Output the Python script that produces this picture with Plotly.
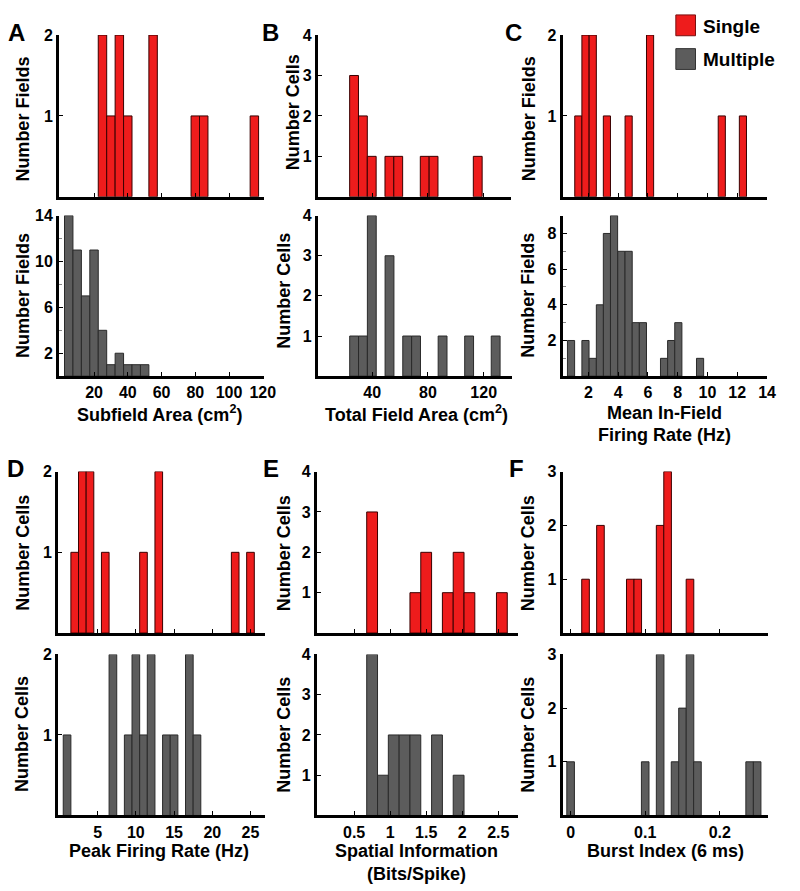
import plotly.graph_objects as go

W, H = 800, 891
RED = "#EE1C1C"
GREY = "#5C5C5C"
FONT = "Arial, Liberation Sans, sans-serif"

# ---------------- data ----------------
# A: Subfield area (cm2)
a_single_x = [25, 30, 35, 40, 55, 80, 85, 115]
a_single_n = [2, 1, 2, 1, 2, 1, 1, 1]
a_multi_x = [5, 10, 15, 20, 25, 30, 35, 40, 45, 50]
a_multi_n = [14, 11, 7, 11, 4, 1, 2, 1, 1, 1]
a_bin = 5
a_xticks = [20, 40, 60, 80, 100, 120]

# B: Total field area (cm2)
b_single_x = [27, 33.35, 39.7, 52.4, 58.75, 77.8, 84.15, 115.9]
b_single_n = [3, 2, 1, 1, 1, 1, 1, 1]
b_multi_x = [27, 33.35, 39.7, 52.4, 65.1, 71.45, 90.5, 109.55, 128.6]
b_multi_n = [1, 1, 4, 3, 1, 1, 1, 1, 1]
b_bin = 6.35
b_xticks = [40, 80, 120]

# C: Mean in-field firing rate (Hz)
c_single_x = [1.32, 1.8, 2.29, 3.24, 4.7, 6.14, 10.96, 12.38]
c_single_n = [1, 2, 2, 1, 1, 2, 1, 1]
c_multi_x = [0.83, 1.8, 2.29, 2.77, 3.24, 3.72, 4.21, 4.7, 5.18, 5.66, 7.08, 7.56, 8.04, 9.5]
c_multi_n = [2, 2, 1, 4, 8, 9, 7, 7, 3, 3, 1, 2, 3, 1]
c_bin = 0.48
c_xticks = [2, 4, 6, 8, 10, 12, 14]

# D: Peak firing rate (Hz)
d_single_x = [2, 3, 4, 6, 11, 13, 23, 25]
d_single_n = [1, 2, 2, 1, 1, 2, 1, 1]
d_multi_x = [1, 7, 9, 10, 11, 12, 14, 15, 17, 18]
d_multi_n = [1, 2, 1, 2, 1, 2, 1, 1, 2, 1]
d_bin = 1
d_xticks = [5, 10, 15, 20, 25]

# E: Spatial information (bits/spike)
e_single_x = [0.75, 1.35, 1.5, 1.8, 1.95, 2.1, 2.55]
e_single_n = [3, 1, 2, 1, 2, 1, 1]
e_multi_x = [0.75, 0.9, 1.05, 1.2, 1.35, 1.65, 1.95]
e_multi_n = [4, 1, 2, 2, 2, 2, 1]
e_bin = 0.15
e_xticks = [0.5, 1, 1.5, 2, 2.5]
e_xticktext = ["0.5", "1", "1.5", "2", "2.5"]

# F: Burst index (6 ms)
f_single_x = [0.02, 0.04, 0.08, 0.09, 0.12, 0.13, 0.16]
f_single_n = [1, 2, 1, 1, 2, 3, 1]
f_multi_x = [0.0, 0.10, 0.12, 0.14, 0.15, 0.16, 0.17, 0.24, 0.25]
f_multi_n = [1, 1, 3, 1, 2, 3, 1, 1, 1]
f_bin = 0.0102
f_xticks = [0, 0.1, 0.2]
f_xticktext = ["0", "0.1", "0.2"]

# ---------------- layout helpers ----------------
def fx(p):
    return p / W

def fy(p):
    return 1 - p / H

R1T = (27.3, 190.5)
R1B = (209.5, 371.5)
R2T = (467.8, 630.7)
R2B = (652.3, 814.8)

panels = [
    # A
    dict(x=a_single_x, n=a_single_n, w=a_bin, c=RED, xd=(60, 268), yd=R1T, xr=[-0.75, 120.5],
         yr=[0, 2], xt=a_xticks, xtt=None, yt=[1, 2], ym=None, lab=False),
    dict(x=a_multi_x, n=a_multi_n, w=a_bin, c=GREY, xd=(60, 268), yd=R1B, xr=[-0.75, 120.5],
         yr=[0, 14], xt=a_xticks, xtt=None, yt=[2, 6, 10, 14], ym=[4, 8, 12], lab=True),
    # B
    dict(x=b_single_x, n=b_single_n, w=b_bin, c=RED, xd=(323, 519), yd=R1T, xr=[0.9, 139.5],
         yr=[0, 4], xt=b_xticks, xtt=None, yt=[1, 2, 3, 4], ym=None, lab=False),
    dict(x=b_multi_x, n=b_multi_n, w=b_bin, c=GREY, xd=(323, 520), yd=R1B, xr=[0.9, 140],
         yr=[0, 4], xt=b_xticks, xtt=None, yt=[1, 2, 3, 4], ym=None, lab=True),
    # C
    dict(x=c_single_x, n=c_single_n, w=c_bin, c=RED, xd=(572, 780), yd=R1T, xr=[0.27, 14.02],
         yr=[0, 2], xt=c_xticks, xtt=None, yt=[1, 2], ym=None, lab=False),
    dict(x=c_multi_x, n=c_multi_n, w=c_bin, c=GREY, xd=(572, 780), yd=R1B, xr=[0.27, 14.02],
         yr=[0, 9], xt=c_xticks, xtt=None, yt=[2, 4, 6, 8], ym=[1, 3, 5, 7, 9], lab=True),
    # D
    dict(x=d_single_x, n=d_single_n, w=d_bin, c=RED, xd=(59, 269), yd=R2T, xr=[-0.18, 26.85],
         yr=[0, 2], xt=d_xticks, xtt=None, yt=[1, 2], ym=None, lab=False),
    dict(x=d_multi_x, n=d_multi_n, w=d_bin, c=GREY, xd=(59, 269), yd=R2B, xr=[-0.18, 26.85],
         yr=[0, 2], xt=d_xticks, xtt=None, yt=[1, 2], ym=None, lab=True),
    # E
    dict(x=e_single_x, n=e_single_n, w=e_bin, c=RED, xd=(322, 527), yd=R2T, xr=[-0.018, 2.78],
         yr=[0, 4], xt=e_xticks, xtt=e_xticktext, yt=[1, 2, 3, 4], ym=None, lab=False),
    dict(x=e_multi_x, n=e_multi_n, w=e_bin, c=GREY, xd=(322, 527), yd=R2B, xr=[-0.018, 2.78],
         yr=[0, 4], xt=e_xticks, xtt=e_xticktext, yt=[1, 2, 3, 4], ym=None, lab=True),
    # F
    dict(x=f_single_x, n=f_single_n, w=f_bin, c=RED, xd=(572, 781), yd=R2T, xr=[-0.0106, 0.265],
         yr=[0, 3], xt=f_xticks, xtt=f_xticktext, yt=[1, 2, 3], ym=None, lab=False),
    dict(x=f_multi_x, n=f_multi_n, w=f_bin, c=GREY, xd=(572, 781), yd=R2B, xr=[-0.0106, 0.265],
         yr=[0, 3], xt=f_xticks, xtt=f_xticktext, yt=[1, 2, 3], ym=None, lab=True),
]

TICKFONT = dict(family=FONT, size=16, color="black", weight="bold")

fig = go.Figure()
layout = {}
for i, p in enumerate(panels, start=1):
    sfx = "" if i == 1 else str(i)
    line_c = "#3a0000" if p["c"] == RED else "#2a2a2a"
    fig.add_trace(go.Bar(
        x=p["x"], y=p["n"], width=p["w"],
        marker=dict(color=p["c"], line=dict(color=line_c, width=1)),
        xaxis="x" + sfx, yaxis="y" + sfx, showlegend=False,
        name="Single" if p["c"] == RED else "Multiple",
    ))
    xa = dict(
        domain=[fx(p["xd"][0]), fx(p["xd"][1])], range=p["xr"], anchor="y" + sfx,
        showline=True, linecolor="black", linewidth=3, showgrid=False, zeroline=False,
        ticks="inside", ticklen=4, tickwidth=1, tickcolor="black",
        tickmode="array", tickvals=p["xt"], showticklabels=p["lab"],
        tickfont=TICKFONT, fixedrange=True,
    )
    if p["xtt"] is not None:
        xa["ticktext"] = p["xtt"]
    ya = dict(
        domain=[fy(p["yd"][1]), fy(p["yd"][0])], range=p["yr"], anchor="x" + sfx,
        showline=True, linecolor="black", linewidth=3, showgrid=False, zeroline=False,
        ticks="inside", ticklen=4, tickwidth=1, tickcolor="black",
        tickmode="array", tickvals=p["yt"],
        tickfont=TICKFONT, fixedrange=True,
    )
    if p["ym"] is not None:
        ya["minor"] = dict(tickvals=p["ym"], ticks="inside", ticklen=3, tickwidth=1,
                           tickcolor="#888888", showgrid=False)
    layout["xaxis" + sfx] = xa
    layout["yaxis" + sfx] = ya

annotations = []

def ann(text, x, y, size=18, angle=0, xanchor="center"):
    annotations.append(dict(
        text=text, x=fx(x), y=fy(y), xref="paper", yref="paper",
        xanchor=xanchor, yanchor="middle", showarrow=False, textangle=angle,
        font=dict(family=FONT, size=size, color="black", weight="bold"),
    ))

# panel letters
for letter, x, y in [("A", 17, 25), ("B", 275, 25), ("C", 522, 25),
                     ("D", 16, 465), ("E", 275, 465), ("F", 525, 465)]:
    ann(letter, x, y, size=24)

# y-axis titles
ann("Number Fields", 23, 112, angle=-90)
ann("Number Fields", 24, 290, angle=-90)
ann("Number Cells", 298, 105, angle=-90)
ann("Number Cells", 289, 285, angle=-90)
ann("Number Fields", 538, 112, angle=-90)
ann("Number Fields", 537, 290, angle=-90)
ann("Number Cells", 23, 550, angle=-90)
ann("Number Cells", 23, 733, angle=-90)
ann("Number Cells", 289, 550, angle=-90)
ann("Number Cells", 289, 733, angle=-90)
ann("Number Cells", 537, 550, angle=-90)
ann("Number Cells", 537, 733, angle=-90)

# x-axis titles
ann("Subfield Area (cm<sup>2</sup>)", 162, 409)
ann("Total Field Area (cm<sup>2</sup>)", 423, 409)
ann("Mean In-Field", 675, 409)
ann("Firing Rate (Hz)", 675, 431)
ann("Peak Firing Rate (Hz)", 162, 851)
ann("Spatial Information", 423, 851)
ann("(Bits/Spike)", 423, 874)
ann("Burst Index (6 ms)", 677, 851)

# legend
ann("Single", 713, 19, size=19, xanchor="left")
ann("Multiple", 713, 52, size=19, xanchor="left")
shapes = [
    dict(type="rect", xref="paper", yref="paper", x0=fx(687), x1=fx(707), y0=fy(28), y1=fy(7),
         fillcolor=RED, line=dict(color="#7a1010", width=1)),
    dict(type="rect", xref="paper", yref="paper", x0=fx(687), x1=fx(707), y0=fy(62), y1=fy(41),
         fillcolor=GREY, line=dict(color="#333333", width=1)),
]

fig.update_layout(
    width=W, height=H, margin=dict(l=0, r=0, t=0, b=0),
    paper_bgcolor="white", plot_bgcolor="white",
    bargap=0, showlegend=False, hovermode=False,
    annotations=annotations, shapes=shapes,
    **layout,
)

# remove the default page margin so the 800x891 figure fills the window exactly
fig.write_html(
    "out.html",
    config={"displayModeBar": False, "staticPlot": True},
    post_script="document.body.style.margin='0';document.body.style.overflow='hidden';",
)
